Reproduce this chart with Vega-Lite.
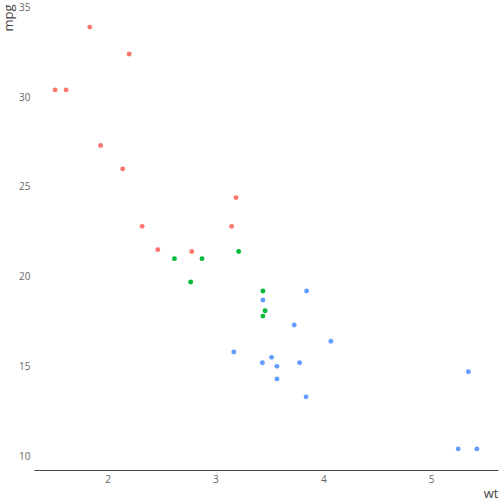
{
  "$schema": "https://vega.github.io/schema/vega-lite/v6.json",
  "width": 464,
  "height": 464,
  "autosize": "none",
  "padding": {"left": 34, "top": 6, "right": 6, "bottom": 34},
  "background": "white",
  "config": {"view": {"stroke": null}, "font": "Open Sans"},
  "data": {"values": [
    {"wt": 2.620, "mpg": 21.0, "cyl": "6"},
    {"wt": 2.875, "mpg": 21.0, "cyl": "6"},
    {"wt": 2.320, "mpg": 22.8, "cyl": "4"},
    {"wt": 3.215, "mpg": 21.4, "cyl": "6"},
    {"wt": 3.440, "mpg": 18.7, "cyl": "8"},
    {"wt": 3.460, "mpg": 18.1, "cyl": "6"},
    {"wt": 3.570, "mpg": 14.3, "cyl": "8"},
    {"wt": 3.190, "mpg": 24.4, "cyl": "4"},
    {"wt": 3.150, "mpg": 22.8, "cyl": "4"},
    {"wt": 3.440, "mpg": 19.2, "cyl": "6"},
    {"wt": 3.440, "mpg": 17.8, "cyl": "6"},
    {"wt": 4.070, "mpg": 16.4, "cyl": "8"},
    {"wt": 3.730, "mpg": 17.3, "cyl": "8"},
    {"wt": 3.780, "mpg": 15.2, "cyl": "8"},
    {"wt": 5.250, "mpg": 10.4, "cyl": "8"},
    {"wt": 5.424, "mpg": 10.4, "cyl": "8"},
    {"wt": 5.345, "mpg": 14.7, "cyl": "8"},
    {"wt": 2.200, "mpg": 32.4, "cyl": "4"},
    {"wt": 1.615, "mpg": 30.4, "cyl": "4"},
    {"wt": 1.835, "mpg": 33.9, "cyl": "4"},
    {"wt": 2.465, "mpg": 21.5, "cyl": "4"},
    {"wt": 3.520, "mpg": 15.5, "cyl": "8"},
    {"wt": 3.435, "mpg": 15.2, "cyl": "8"},
    {"wt": 3.840, "mpg": 13.3, "cyl": "8"},
    {"wt": 3.845, "mpg": 19.2, "cyl": "8"},
    {"wt": 1.935, "mpg": 27.3, "cyl": "4"},
    {"wt": 2.140, "mpg": 26.0, "cyl": "4"},
    {"wt": 1.513, "mpg": 30.4, "cyl": "4"},
    {"wt": 3.170, "mpg": 15.8, "cyl": "8"},
    {"wt": 2.770, "mpg": 19.7, "cyl": "6"},
    {"wt": 3.570, "mpg": 15.0, "cyl": "8"},
    {"wt": 2.780, "mpg": 21.4, "cyl": "4"}
  ]},
  "mark": {"type": "circle", "size": 24, "opacity": 1},
  "encoding": {
    "x": {
      "field": "wt", "type": "quantitative",
      "scale": {"domain": [1.3175, 5.6196], "nice": false, "zero": false},
      "axis": {
        "values": [2, 3, 4, 5], "grid": false, "ticks": false,
        "domainColor": "#444444", "domainWidth": 1,
        "labelFontSize": 10, "labelColor": "#666666", "labelPadding": 4,
        "title": "wt", "titleFontSize": 13, "titleFontWeight": "normal", "titleColor": "#444444",
        "titleAnchor": null, "titleX": 464, "titleY": 27, "titleAlign": "right", "titleBaseline": "alphabetic"
      }
    },
    "y": {
      "field": "mpg", "type": "quantitative",
      "scale": {"domain": [9.225, 35.075], "nice": false, "zero": false},
      "axis": {
        "values": [10, 15, 20, 25, 30, 35], "grid": false, "ticks": false, "domain": false,
        "labelFontSize": 10, "labelColor": "#666666", "labelPadding": 4,
        "title": "mpg", "titleFontSize": 13, "titleFontWeight": "normal", "titleColor": "#444444",
        "titleAngle": -90, "titleX": -22, "titleY": -2, "titleAlign": "right", "titleBaseline": "alphabetic"
      }
    },
    "color": {
      "field": "cyl", "type": "nominal",
      "scale": {"domain": ["4", "6", "8"], "range": ["#F8766D", "#00BA38", "#619CFF"]},
      "legend": null
    }
  }
}
